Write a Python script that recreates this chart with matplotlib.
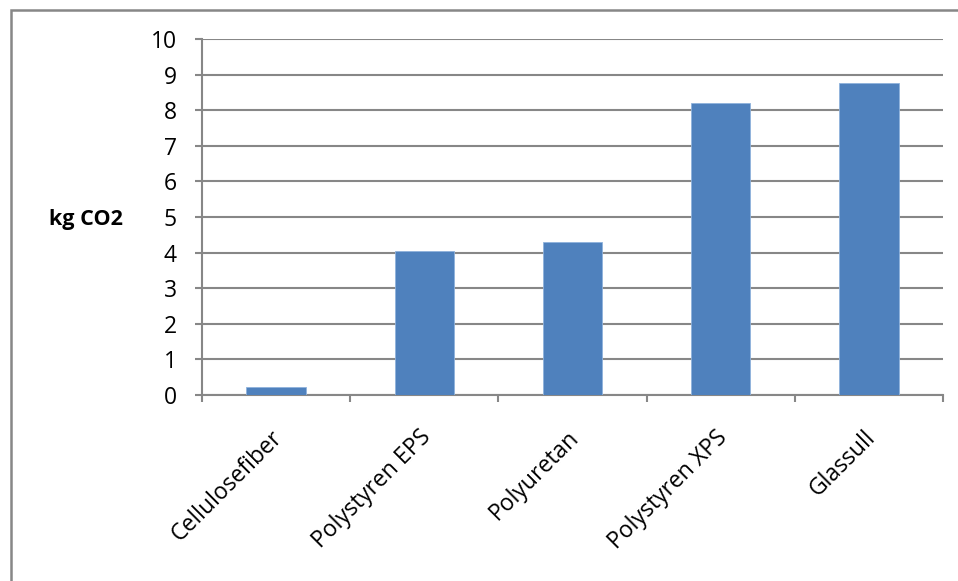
import matplotlib
matplotlib.use("Agg")
import matplotlib.pyplot as plt
from matplotlib.patches import Rectangle

categories = ["Cellulosefiber", "Polystyren EPS", "Polyuretan", "Polystyren XPS", "Glassull"]
values = [0.23, 4.04, 4.31, 8.21, 8.76]
yticks = list(range(0, 11))

plt.rcParams["font.family"] = ["Open Sans", "DejaVu Sans"]

W, H = 958, 581
fig = plt.figure(figsize=(W / 100, H / 100), dpi=100)
ax = fig.add_axes([202 / W, 1 - 395 / H, (943 - 202) / W, (395 - 39) / H])

grey = "#878787"
bar_color = "#4F81BD"

x = list(range(len(categories)))
ax.bar(x, values, width=0.4, color=bar_color, edgecolor="#8FB2DC", linewidth=0.6, zorder=3)

ax.set_xlim(-0.5, len(categories) - 0.5)
ax.set_ylim(0, 10)
ax.set_yticks(yticks)
ax.set_yticklabels([str(t) for t in yticks], fontsize=16.5)
ax.yaxis.grid(True, color=grey, linewidth=1.5, zorder=0)
ax.set_axisbelow(True)

# category boundary ticks on the x axis
ax.set_xticks([i - 0.5 for i in range(len(categories) + 1)])
ax.set_xticklabels([])
ax.tick_params(axis="x", direction="out", length=5, width=1.5, color=grey)
ax.tick_params(axis="y", direction="out", length=5, width=1.5, color=grey, pad=13)

for s in ["top", "right"]:
    ax.spines[s].set_visible(False)
for s in ["left", "bottom"]:
    ax.spines[s].set_color(grey)
    ax.spines[s].set_linewidth(1.5)

for i, name in enumerate(categories):
    ax.annotate(name, xy=(i, 0), xycoords="data", xytext=(-4, -22), textcoords="offset points",
                rotation=45, rotation_mode="anchor", ha="right", va="top", fontsize=16.5)

fig.text(86 / W, 1 - 220 / H, "kg CO2", fontsize=15.5, fontweight="bold", ha="center", va="center")

# chart frame
fig.patches.append(Rectangle((11 / W, -0.1), 1.0, 1.1 - 10 / H, transform=fig.transFigure,
                             fill=False, edgecolor=grey, linewidth=1.8, zorder=0))

fig.savefig("out.png", dpi=100)
